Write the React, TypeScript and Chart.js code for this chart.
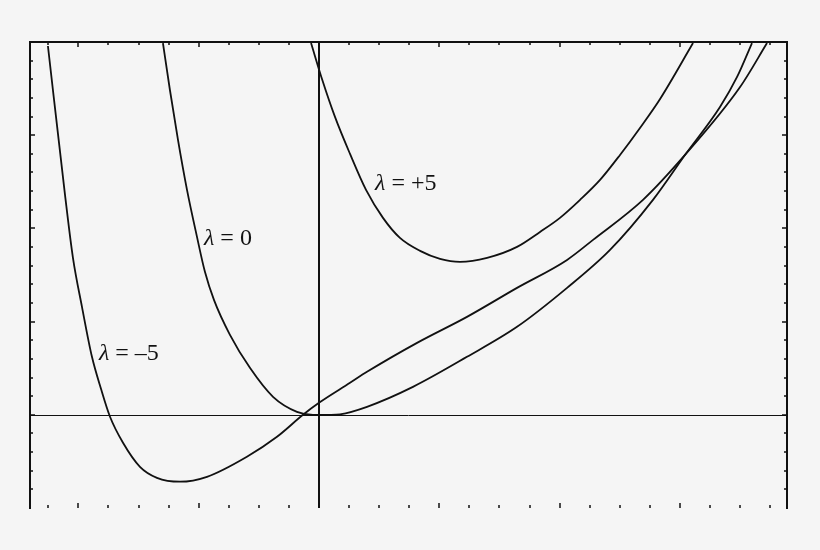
import { useEffect, useRef } from 'react';
import { Chart, ChartConfiguration, Plugin } from 'chart.js/auto';

// curve samples (x, y in axis units)
const minus5X = [-2.253, -2.111, -2.045, -1.97, -1.887, -1.812, -1.737, -1.629, -1.488, -1.347, -1.155, -0.931, -0.599, -0.349, -0.133, 0, 0.258, 0.399, 0.815, 1.23, 1.646, 2.062, 2.278, 2.693, 3.042, 3.5, 3.724];
const minus5Y = [3.957, 2.359, 1.684, 1.158, 0.622, 0.279, -0.021, -0.3, -0.558, -0.676, -0.718, -0.665, -0.45, -0.236, 0, 0.129, 0.343, 0.461, 0.772, 1.051, 1.362, 1.662, 1.877, 2.306, 2.788, 3.517, 3.989];

const zeroX = [-1.297, -1.239, -1.172, -1.097, -1.014, -0.948, -0.873, -0.74, -0.574, -0.382, -0.183, -0.05, 0.1, 0.175, 0.399, 0.781, 1.23, 1.646, 2.062, 2.419, 2.776, 3.042, 3.333, 3.475, 3.599];
const zeroY = [3.989, 3.485, 2.949, 2.413, 1.909, 1.534, 1.233, 0.858, 0.504, 0.193, 0.032, 0, 0, 0.005, 0.086, 0.3, 0.622, 0.944, 1.362, 1.769, 2.306, 2.788, 3.303, 3.625, 3.989];

const plus5X = [-0.066, 0.025, 0.133, 0.258, 0.391, 0.532, 0.673, 0.84, 1.006, 1.172, 1.397, 1.646, 1.837, 2.003, 2.17, 2.336, 2.502, 2.668, 2.835, 3.109];
const plus5Y = [3.989, 3.603, 3.196, 2.799, 2.413, 2.113, 1.898, 1.759, 1.673, 1.641, 1.684, 1.802, 1.962, 2.113, 2.306, 2.52, 2.788, 3.078, 3.389, 3.989];

const xTicks = [-2.25, -2, -1.75, -1.5, -1.25, -1, -0.75, -0.5, -0.25, 0, 0.25, 0.5, 0.75, 1, 1.25, 1.5, 1.75, 2, 2.25, 2.5, 2.75, 3, 3.25, 3.5, 3.75];
const yTicks = [-0.8, -0.6, -0.4, -0.2, 0, 0.2, 0.4, 0.6, 0.8, 1, 1.2, 1.4, 1.6, 1.8, 2, 2.2, 2.4, 2.6, 2.8, 3, 3.2, 3.4, 3.6, 3.8];

const curveLabels = [
  { value: '–5', x: -1.829, y: 0.59 },
  { value: '0', x: -0.956, y: 1.823 },
  { value: '+5', x: 0.466, y: 2.413 },
];

const zip = (xs: number[], ys: number[]) => xs.map((x, i) => ({ x, y: ys[i] }));

const ink = '#111111';
const serif = '"Liberation Serif", "Times New Roman", "DejaVu Serif", serif';

const framePlugin: Plugin = {
  id: 'frame',
  beforeDatasetsDraw(chart) {
    const { ctx, chartArea: a, scales } = chart;
    const sx = scales.x;
    const sy = scales.y;
    ctx.save();
    ctx.strokeStyle = ink;

    // axes through the origin
    const y0 = Math.round(sy.getPixelForValue(0)) + 0.5;
    const x0 = Math.round(sx.getPixelForValue(0));
    ctx.lineWidth = 1;
    ctx.beginPath();
    ctx.moveTo(a.left, y0);
    ctx.lineTo(a.right, y0);
    ctx.stroke();
    ctx.lineWidth = 2;
    ctx.beginPath();
    ctx.moveTo(x0, a.top);
    ctx.lineTo(x0, a.bottom);
    ctx.stroke();

    // frame: left, top, right (no bottom edge)
    ctx.lineWidth = 2;
    ctx.beginPath();
    ctx.moveTo(a.left, a.bottom + 1);
    ctx.lineTo(a.left, a.top);
    ctx.lineTo(a.right, a.top);
    ctx.lineTo(a.right, a.bottom + 1);
    ctx.stroke();

    // inward ticks
    ctx.lineWidth = 1.5;
    ctx.beginPath();
    xTicks.forEach(v => {
      const px = Math.round(sx.getPixelForValue(v));
      const len = Number.isInteger(v) ? 5 : 3;
      ctx.moveTo(px, a.bottom);
      ctx.lineTo(px, a.bottom - len);
      ctx.moveTo(px, a.top);
      ctx.lineTo(px, a.top + len);
    });
    yTicks.forEach(v => {
      const py = Math.round(sy.getPixelForValue(v));
      const len = Number.isInteger(v) ? 5 : 3;
      ctx.moveTo(a.left, py);
      ctx.lineTo(a.left + len, py);
      ctx.moveTo(a.right, py);
      ctx.lineTo(a.right - len, py);
    });
    ctx.stroke();
    ctx.restore();
  },
  afterDatasetsDraw(chart) {
    const { ctx, scales } = chart;
    ctx.save();
    ctx.fillStyle = ink;
    ctx.textBaseline = 'alphabetic';
    ctx.textAlign = 'left';
    curveLabels.forEach(l => {
      const px = scales.x.getPixelForValue(l.x);
      const py = scales.y.getPixelForValue(l.y);
      ctx.font = `italic 24px ${serif}`;
      ctx.fillText('λ', px, py);
      const w = ctx.measureText('λ').width;
      ctx.font = `24px ${serif}`;
      ctx.fillText(' = ' + l.value, px + w, py);
    });
    ctx.restore();
  },
};

export default function App() {
  const canvasRef = useRef<HTMLCanvasElement | null>(null);
  const chartInstance = useRef<Chart | null>(null);

  useEffect(() => {
    if (!canvasRef.current) return;
    const ctx = canvasRef.current.getContext('2d');
    if (!ctx) return;

    const line = {
      showLine: true,
      borderColor: ink,
      borderWidth: 1.8,
      pointRadius: 0,
      cubicInterpolationMode: 'monotone' as const,
      fill: false,
    };

    const config: ChartConfiguration<'scatter'> = {
      type: 'scatter',
      data: {
        datasets: [
          { label: 'λ = –5', data: zip(minus5X, minus5Y), ...line },
          { label: 'λ = 0', data: zip(zeroX, zeroY), ...line },
          { label: 'λ = +5', data: zip(plus5X, plus5Y), ...line },
        ],
      },
      options: {
        animation: false,
        responsive: false,
        maintainAspectRatio: false,
        layout: { padding: { left: 30, top: 42, right: 33, bottom: 42 } },
        scales: {
          x: { type: 'linear', min: -2.402, max: 3.89, display: false },
          y: { type: 'linear', min: -1, max: 4, display: false },
        },
        plugins: {
          legend: { display: false },
          tooltip: { enabled: false },
        },
      },
      plugins: [framePlugin],
    };

    if (chartInstance.current) chartInstance.current.destroy();
    chartInstance.current = new Chart(ctx, config);

    return () => {
      if (chartInstance.current) {
        chartInstance.current.destroy();
        chartInstance.current = null;
      }
    };
  }, []);

  return (
    <div style={{ position: 'fixed', left: 0, top: 0, width: 820, height: 550, background: '#f5f5f5' }}>
      <canvas ref={canvasRef} width={820} height={550} style={{ width: 820, height: 550, display: 'block' }} />
    </div>
  );
}
